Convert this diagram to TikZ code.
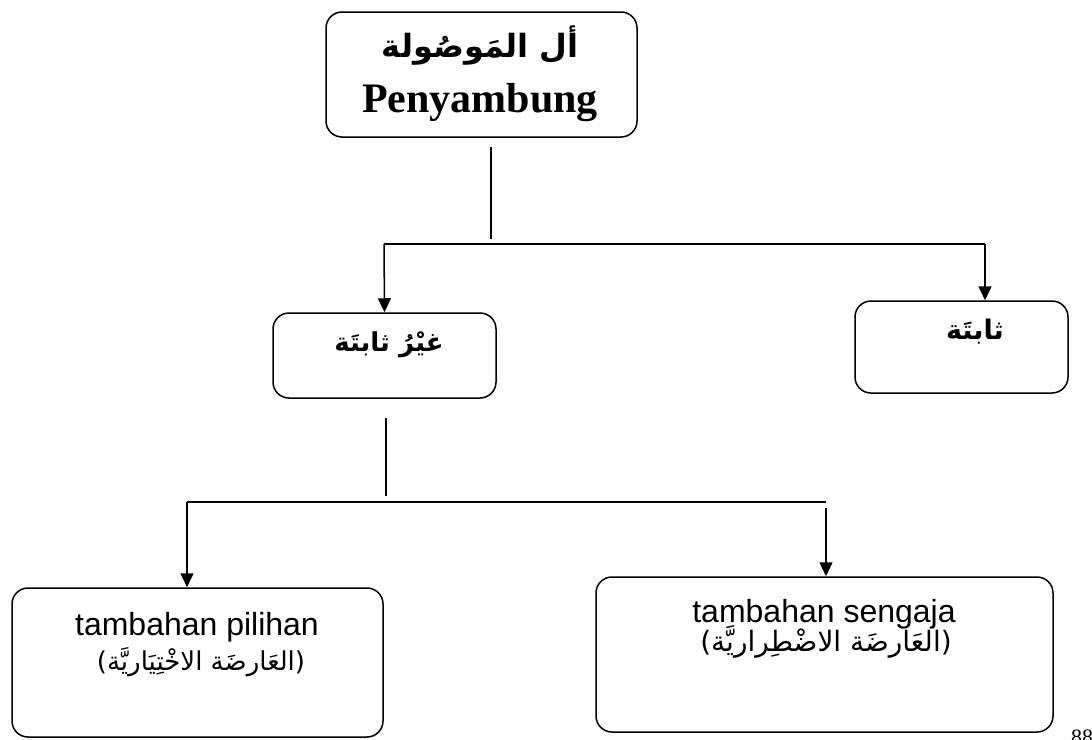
\documentclass[tikz,border=0pt]{standalone}
\usepackage{fontspec}
\setmainfont{Liberation Serif}
\newfontfamily\arialfont{Liberation Sans}
\newfontfamily\arabicfont[Script=Arabic]{DejaVu Sans}
\TeXXeTstate=1
\usetikzlibrary{arrows.meta}
\tikzstyle{box} = [rectangle,
rounded corners=16pt,
draw=black,
line width=1.5pt]
\tikzstyle{line} = [line width=1.5pt]
\tikzstyle{arrow} = [line width=1.5pt,
-{Triangle[width=13pt,length=14pt]}]

\begin{document}
\begin{tikzpicture}[x=1pt, y=-1pt]
\useasboundingbox (0,0) rectangle (1092,739);

% boxes
\node (top) [box, minimum width=311pt, minimum height=125pt] at (481.5,74.5) {};
\node (ghair) [box, minimum width=223pt, minimum height=85pt] at (384.5,355.5) {};
\node (tsabit) [box, minimum width=213pt, minimum height=92pt] at (961.5,347) {};
\node (pilihan) [box, minimum width=371pt, minimum height=149pt] at (197.5,662.5) {};
\node (sengaja) [box, minimum width=457pt, minimum height=155pt] at (824.5,654.5) {};

% texts
\node (topar) at (480,46) {\arabicfont\bfseries\fontsize{32}{36}\selectfont\beginR أل المَوصُولة\endR};
\node (toplat) at (480,103) {\bfseries\fontsize{42}{46}\selectfont Penyambung};
\node (ghairtxt) at (389,345) {\arabicfont\bfseries\fontsize{26}{30}\selectfont\beginR غيْرُ ثابتَة\endR};
\node (tsabittxt) at (975,332) {\arabicfont\bfseries\fontsize{27}{30}\selectfont\beginR ثابتَة\endR};
\node (pilihanlat) at (197,627) {\arialfont\fontsize{32}{36}\selectfont tambahan pilihan};
\node (pilihanar) at (201,662) {\arabicfont\fontsize{26}{30}\selectfont)\beginR العَارضَة الاخْتِيَاريَّة\endR(};
\node (sengajalat) at (824,614) {\arialfont\fontsize{32}{36}\selectfont tambahan sengaja};
\node (sengajaar) at (826,642) {\arabicfont\fontsize{28}{32}\selectfont)\beginR العَارضَة الاضْطِراريَّة\endR(};
\node (page) [anchor=north] at (1082,726) {\fontsize{22}{26}\selectfont 88};

% connectors, first level
\coordinate (s1a) at (491,147);
\coordinate (s1b) at (491,239);
\coordinate (h1l) at (384,244);
\coordinate (h1r) at (985,244);
\draw [line] (s1a) -- (s1b);
\draw [line] (h1l) -- (h1r);
\draw [arrow] (h1l) -- (ghair.north);
\draw [arrow] (h1r) -- (h1r |- tsabit.north);

% connectors, second level
\coordinate (s2a) at (386,418);
\coordinate (s2b) at (386,496);
\coordinate (h2l) at (187,502);
\coordinate (h2r) at (826,502);
\coordinate (h2d) at (826,508);
\draw [line] (s2a) -- (s2b);
\draw [line] (h2l) -- (h2r);
\draw [arrow] (h2l) -- (h2l |- pilihan.north);
\draw [arrow] (h2d) -- (h2d |- sengaja.north);

\end{tikzpicture}
\end{document}
